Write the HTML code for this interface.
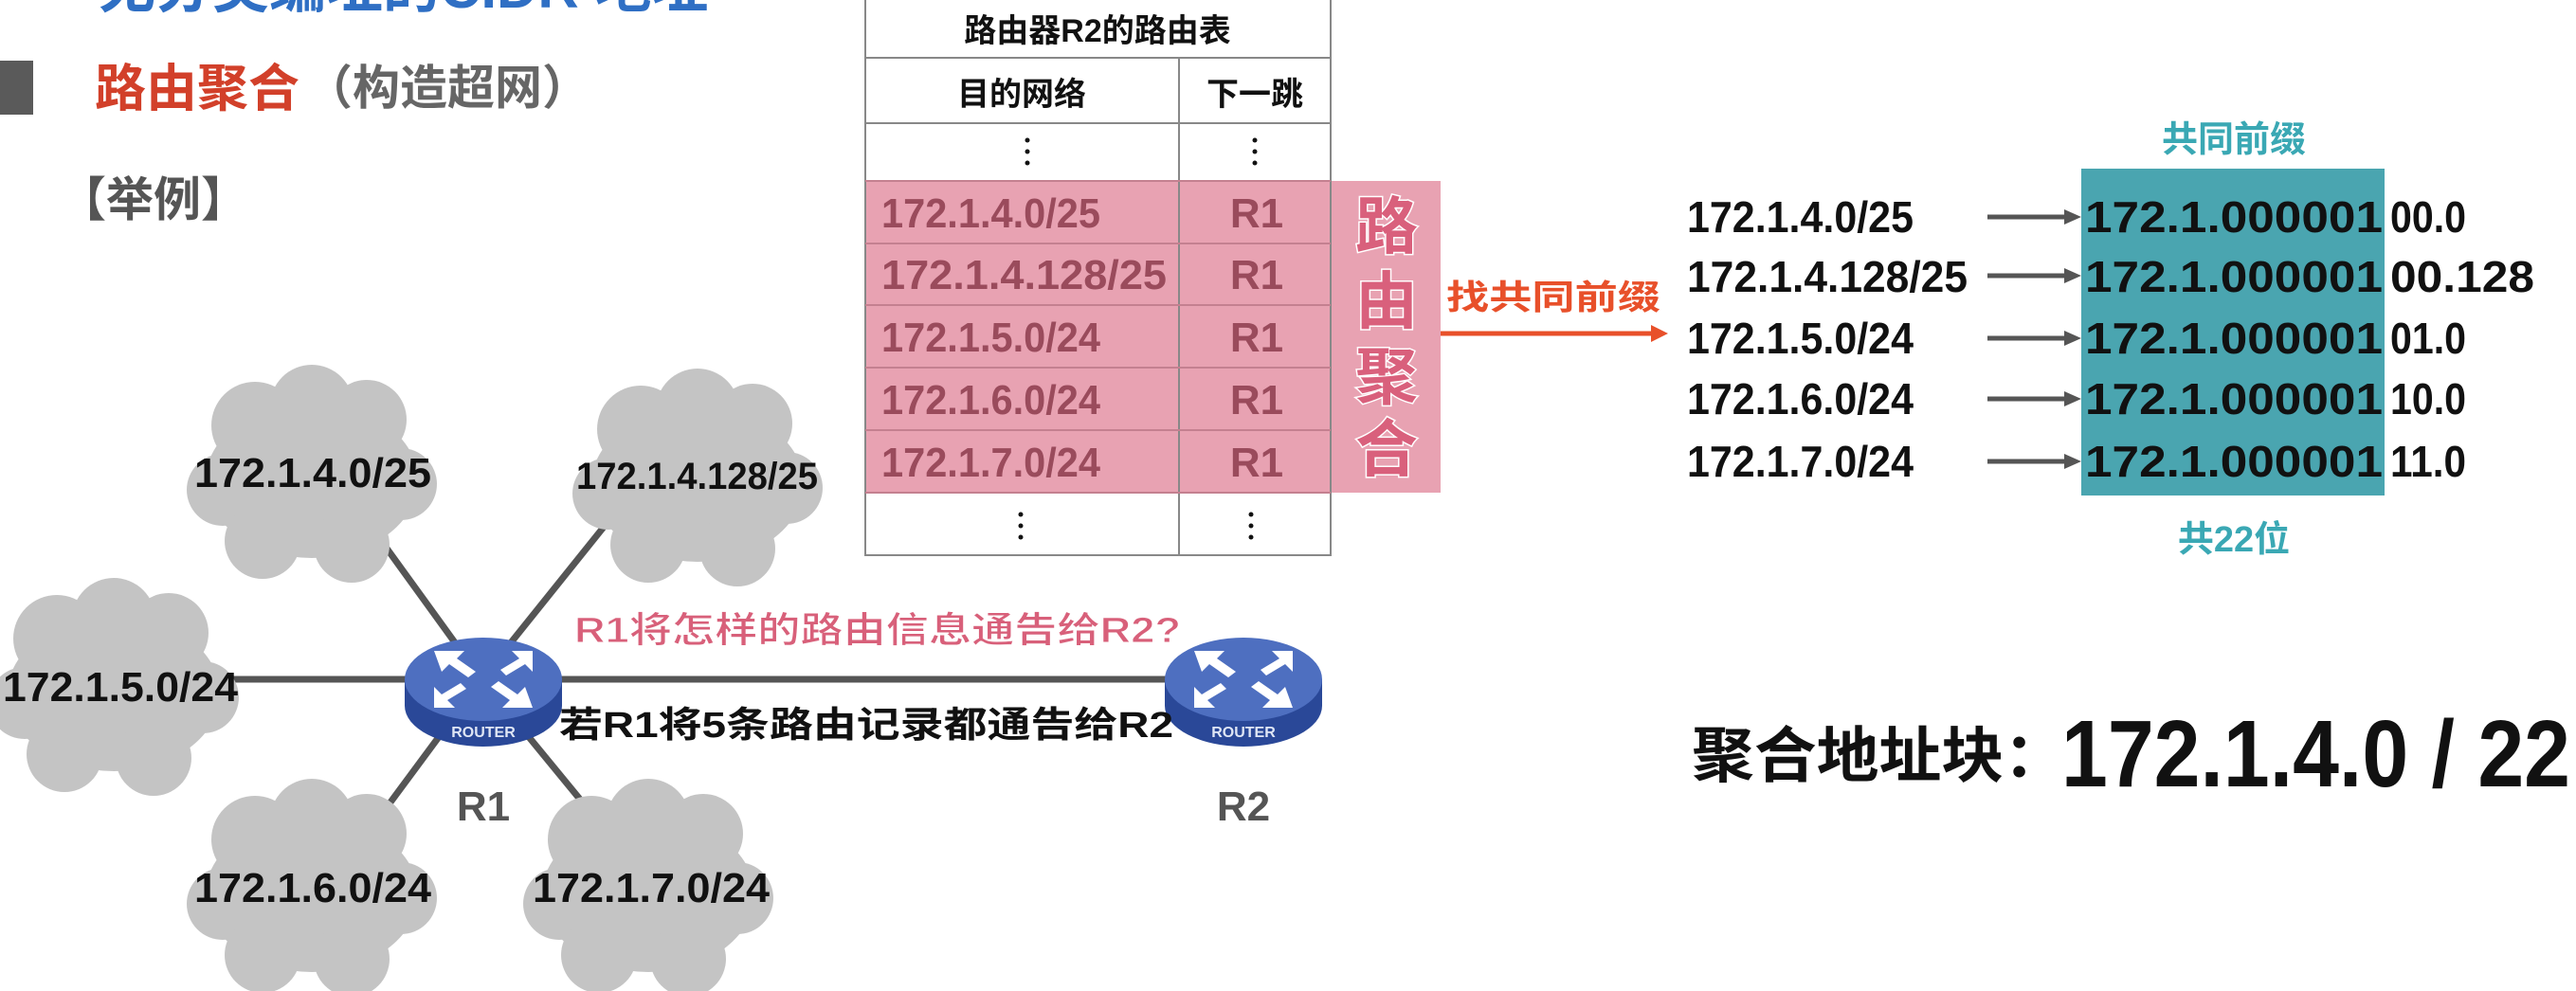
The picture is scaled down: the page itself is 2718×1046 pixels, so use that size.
<!DOCTYPE html>
<html><head><meta charset="utf-8"><style>
html,body{margin:0;padding:0;background:#fff;width:2718px;height:1046px;overflow:hidden}
svg{display:block}
text{font-family:"Liberation Sans","Noto Sans CJK SC",sans-serif;font-weight:bold}
</style></head><body>
<svg width="2718" height="1046" viewBox="0 0 2718 1046" xmlns="http://www.w3.org/2000/svg">
<defs>
<g id="cloud">
<ellipse cx="0" cy="8" rx="112" ry="82" fill="#c4c4c4"/>
<circle cx="-60" cy="-50" r="46" fill="#c4c4c4"/>
<circle cx="0" cy="-70" r="44" fill="#c4c4c4"/>
<circle cx="58" cy="-56" r="42" fill="#c4c4c4"/>
<circle cx="-94" cy="18" r="38" fill="#c4c4c4"/>
<circle cx="94" cy="12" r="38" fill="#c4c4c4"/>
<circle cx="-52" cy="72" r="40" fill="#c4c4c4"/>
<circle cx="42" cy="76" r="40" fill="#c4c4c4"/>
</g>
<g id="router">
<path d="M-83,0 L-83,28 A83,43 0 0 0 83,28 L83,0 Z" fill="#2a4898"/>
<ellipse cx="0" cy="0" rx="83" ry="44" fill="#4e6fc0"/>
<g fill="#fff">
<polygon points="-52,-30 -20,-30 -28,-22 -8,-8 -16,-2 -36,-16 -44,-8"/>
<polygon points="52,30 20,30 28,22 8,8 16,2 36,16 44,8"/>
<polygon points="52,-30 52,-8 44,-16 24,-4 18,-10 38,-22 30,-30"/>
<polygon points="-52,30 -52,8 -44,16 -24,4 -18,10 -38,22 -30,30"/>
</g>
<text x="0" y="61" font-size="16" fill="#dfe6f5" text-anchor="middle">ROUTER</text>
</g>
</defs>

<text x="104" y="8" font-size="60" fill="#2f6fc4">无分类编址的CIDR  地址</text>
<rect x="0" y="64" width="35" height="57" fill="#5a5a5a"/>
<text x="100" y="112" font-size="54" fill="#d2402a">路由聚合</text>
<text x="322" y="110" font-size="50" fill="#666">（构造超网）</text>
<text x="62" y="228" font-size="50" fill="#555">【举例】</text>

<g stroke="#555" stroke-width="7">
<line x1="508" y1="717" x2="1312" y2="717"/>
<line x1="130" y1="717" x2="508" y2="717"/>
<line x1="508" y1="717" x2="380" y2="540"/>
<line x1="508" y1="717" x2="650" y2="540"/>
<line x1="508" y1="717" x2="380" y2="890"/>
<line x1="508" y1="717" x2="650" y2="890"/>
</g>
<use href="#cloud" transform="translate(329,499)"/>
<use href="#cloud" transform="translate(736,503)"/>
<use href="#cloud" transform="translate(120,724)"/>
<use href="#cloud" transform="translate(329,936)"/>
<use href="#cloud" transform="translate(684,936)"/>
<text x="205" y="514" font-size="44" fill="#111" textLength="250" lengthAdjust="spacingAndGlyphs">172.1.4.0/25</text>
<text x="608" y="516" font-size="40" fill="#111" textLength="255" lengthAdjust="spacingAndGlyphs">172.1.4.128/25</text>
<text x="3" y="740" font-size="44" fill="#111" textLength="248" lengthAdjust="spacingAndGlyphs">172.1.5.0/24</text>
<text x="205" y="952" font-size="44" fill="#111" textLength="250" lengthAdjust="spacingAndGlyphs">172.1.6.0/24</text>
<text x="562" y="952" font-size="44" fill="#111" textLength="250" lengthAdjust="spacingAndGlyphs">172.1.7.0/24</text>
<use href="#router" transform="translate(510,717)"/>
<use href="#router" transform="translate(1312,717)"/>
<text x="510" y="866" font-size="44" fill="#555" text-anchor="middle" font-weight="normal">R1</text>
<text x="1312" y="866" font-size="44" fill="#555" text-anchor="middle" font-weight="normal">R2</text>
<text x="606" y="678" font-size="38" fill="#d8607a" stroke="#fff" stroke-width="1" textLength="640" lengthAdjust="spacingAndGlyphs">R1将怎样的路由信息通告给R2?</text>
<text x="590" y="778" font-size="38" fill="#111" textLength="648" lengthAdjust="spacingAndGlyphs">若R1将5条路由记录都通告给R2</text>

<rect x="913" y="191" width="607" height="329" fill="#e8a2b2"/>
<g stroke="#888" stroke-width="2" fill="none">
<rect x="913" y="-2" width="491" height="588"/>
<line x1="913" y1="61" x2="1404" y2="61"/>
<line x1="913" y1="130" x2="1404" y2="130"/>
<line x1="1244" y1="61" x2="1244" y2="586"/>
</g>
<g stroke="#c48090" stroke-width="2">
<line x1="913" y1="191" x2="1404" y2="191"/>
<line x1="913" y1="257" x2="1404" y2="257"/>
<line x1="913" y1="322" x2="1404" y2="322"/>
<line x1="913" y1="388" x2="1404" y2="388"/>
<line x1="913" y1="454" x2="1404" y2="454"/>
<line x1="913" y1="520" x2="1404" y2="520"/>
</g>
<text x="1158" y="44" font-size="34" fill="#111" text-anchor="middle">路由器R2的路由表</text>
<text x="1078" y="111" font-size="34" fill="#111" text-anchor="middle">目的网络</text>
<text x="1324" y="111" font-size="34" fill="#111" text-anchor="middle">下一跳</text>
<g fill="#111">
<circle cx="1084" cy="148" r="2.5"/><circle cx="1084" cy="160" r="2.5"/><circle cx="1084" cy="172" r="2.5"/>
<circle cx="1324" cy="148" r="2.5"/><circle cx="1324" cy="160" r="2.5"/><circle cx="1324" cy="172" r="2.5"/>
<circle cx="1077" cy="543" r="2.5"/><circle cx="1077" cy="555" r="2.5"/><circle cx="1077" cy="567" r="2.5"/>
<circle cx="1320" cy="543" r="2.5"/><circle cx="1320" cy="555" r="2.5"/><circle cx="1320" cy="567" r="2.5"/>
</g>
<g font-size="44" fill="#9a4b5c" font-weight="normal">
<text x="930" y="240" textLength="231" lengthAdjust="spacingAndGlyphs">172.1.4.0/25</text>
<text x="930" y="305" textLength="301" lengthAdjust="spacingAndGlyphs">172.1.4.128/25</text>
<text x="930" y="371" textLength="231" lengthAdjust="spacingAndGlyphs">172.1.5.0/24</text>
<text x="930" y="437" textLength="231" lengthAdjust="spacingAndGlyphs">172.1.6.0/24</text>
<text x="930" y="503" textLength="231" lengthAdjust="spacingAndGlyphs">172.1.7.0/24</text>
<text x="1326" y="240" text-anchor="middle">R1</text>
<text x="1326" y="305" text-anchor="middle">R1</text>
<text x="1326" y="371" text-anchor="middle">R1</text>
<text x="1326" y="437" text-anchor="middle">R1</text>
<text x="1326" y="503" text-anchor="middle">R1</text>
</g>
<g font-size="66" fill="#d9607c" stroke="#fff" stroke-width="3" paint-order="stroke" text-anchor="middle">
<text x="1463" y="262">路</text>
<text x="1463" y="341">由</text>
<text x="1463" y="421">聚</text>
<text x="1463" y="497">合</text>
</g>
<line x1="1520" y1="352" x2="1745" y2="352" stroke="#e8502a" stroke-width="5"/>
<polygon points="1760,352 1742,343 1742,361" fill="#e8502a"/>
<text x="1526" y="326" font-size="36" fill="#e8502a" stroke="#fff" stroke-width="2" paint-order="stroke" textLength="226" lengthAdjust="spacingAndGlyphs">找共同前缀</text>

<rect x="2196" y="178" width="320" height="345" fill="#4aa5b0"/>
<text x="2357" y="160" font-size="38" fill="#3aa8b4" text-anchor="middle">共同前缀</text>
<text x="2357" y="582" font-size="38" fill="#3aa8b4" text-anchor="middle">共22位</text>
<g font-size="46" fill="#111">
<text x="1780" y="245" textLength="239" lengthAdjust="spacingAndGlyphs">172.1.4.0/25</text>
<text x="1780" y="308" textLength="296" lengthAdjust="spacingAndGlyphs">172.1.4.128/25</text>
<text x="1780" y="373" textLength="239" lengthAdjust="spacingAndGlyphs">172.1.5.0/24</text>
<text x="1780" y="437" textLength="239" lengthAdjust="spacingAndGlyphs">172.1.6.0/24</text>
<text x="1780" y="503" textLength="239" lengthAdjust="spacingAndGlyphs">172.1.7.0/24</text>
<text x="2200" y="245" textLength="314" lengthAdjust="spacingAndGlyphs">172.1.000001</text>
<text x="2200" y="308" textLength="314" lengthAdjust="spacingAndGlyphs">172.1.000001</text>
<text x="2200" y="373" textLength="314" lengthAdjust="spacingAndGlyphs">172.1.000001</text>
<text x="2200" y="437" textLength="314" lengthAdjust="spacingAndGlyphs">172.1.000001</text>
<text x="2200" y="503" textLength="314" lengthAdjust="spacingAndGlyphs">172.1.000001</text>
<text x="2522" y="245" textLength="80" lengthAdjust="spacingAndGlyphs">00.0</text>
<text x="2522" y="308" textLength="152" lengthAdjust="spacingAndGlyphs">00.128</text>
<text x="2522" y="373" textLength="80" lengthAdjust="spacingAndGlyphs">01.0</text>
<text x="2522" y="437" textLength="80" lengthAdjust="spacingAndGlyphs">10.0</text>
<text x="2522" y="503" textLength="80" lengthAdjust="spacingAndGlyphs">11.0</text>
</g>
<g stroke="#555" stroke-width="5">
<line x1="2097" y1="229" x2="2180" y2="229"/>
<line x1="2097" y1="291" x2="2180" y2="291"/>
<line x1="2097" y1="357" x2="2180" y2="357"/>
<line x1="2097" y1="421" x2="2180" y2="421"/>
<line x1="2097" y1="487" x2="2180" y2="487"/>
</g>
<g fill="#555">
<polygon points="2196,229 2178,221 2178,237"/>
<polygon points="2196,291 2178,283 2178,299"/>
<polygon points="2196,357 2178,349 2178,365"/>
<polygon points="2196,421 2178,413 2178,429"/>
<polygon points="2196,487 2178,479 2178,495"/>
</g>
<text x="1785" y="820" font-size="64" fill="#111" textLength="395" lengthAdjust="spacingAndGlyphs">聚合地址块：</text>
<text x="2175" y="830" font-size="100" fill="#111" textLength="537" lengthAdjust="spacingAndGlyphs">172.1.4.0 / 22</text>
</svg>
</body></html>
